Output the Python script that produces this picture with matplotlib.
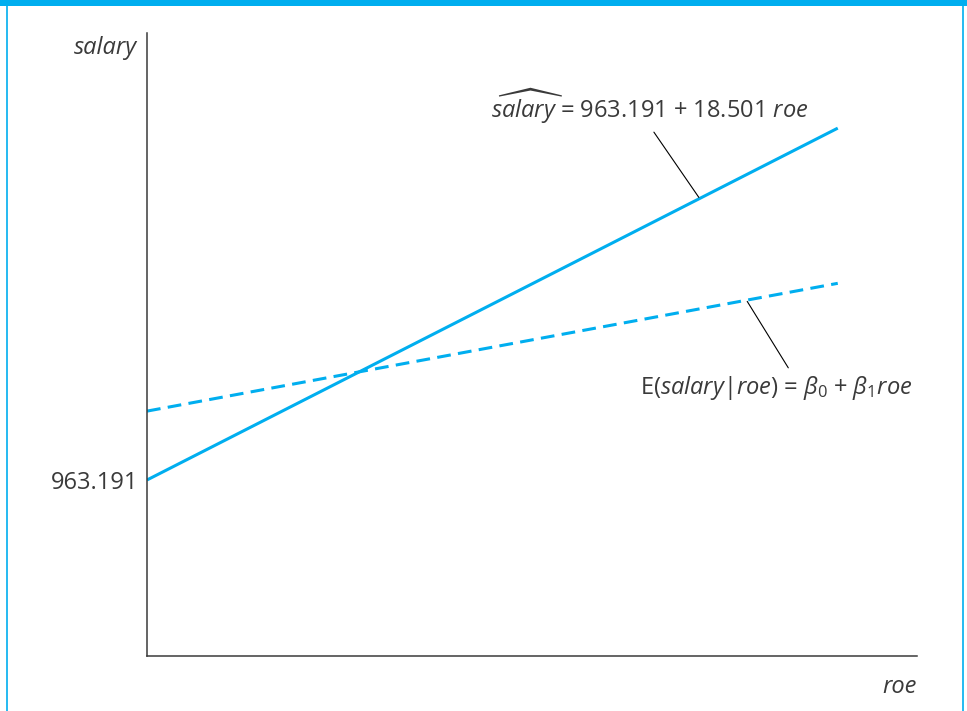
import numpy as np
import matplotlib
matplotlib.use("Agg")
import matplotlib.pyplot as plt
from matplotlib.patches import Rectangle
from matplotlib.lines import Line2D

plt.rcParams['font.family'] = ['Open Sans', 'DejaVu Sans']
plt.rcParams['mathtext.fontset'] = 'custom'
plt.rcParams['mathtext.rm'] = 'Open Sans'
plt.rcParams['mathtext.it'] = 'Open Sans:italic'

AZUL = '#00AEEF'
GRIS = '#3a3a3a'

# Datos
roe = np.array([0.0, 56.0])          # rango de roe dibujado
b0_hat, b1_hat = 963.191, 18.501     # recta estimada (OLS)
b0_pob, b1_pob = 1166.0, 6.72        # recta poblacional (ilustrativa)
xlim = (0.0, 62.4)
ylim = (445.0, 2279.0)
ytick_val = [963.191]
ytick_txt = ['963.191']

salary_hat = b0_hat + b1_hat * roe
salary_pob = b0_pob + b1_pob * roe

fig = plt.figure(figsize=(9.67, 7.11), dpi=100)
ax = fig.add_axes([0.152, 0.0774, 0.796, 0.876])

ax.plot(roe, salary_hat, color=AZUL, lw=2.2, solid_capstyle='butt')
ax.plot(roe, salary_pob, color=AZUL, lw=2.2, dashes=(4.5, 2.4))

ax.set_xlim(*xlim)
ax.set_ylim(*ylim)
ax.set_xticks([])
ax.set_yticks(ytick_val)
ax.set_yticklabels(ytick_txt)
ax.tick_params(axis='y', length=0, pad=6, labelsize=17, labelcolor=GRIS)

for s in ['top', 'right']:
    ax.spines[s].set_visible(False)
for s in ['left', 'bottom']:
    ax.spines[s].set_color(GRIS)
    ax.spines[s].set_linewidth(1.1)

# etiquetas de ejes
ax.text(-0.013, 0.976, 'salary', transform=ax.transAxes, ha='right', va='center',
        fontsize=17, style='italic', color=GRIS)
ax.text(1.0, -0.03, 'roe', transform=ax.transAxes, ha='right', va='top',
        fontsize=17, style='italic', color=GRIS)

# anotaciones
x1 = 44.8
ax.annotate(r'$\widehat{salary}$ = 963.191 + 18.501 $roe$',
            xy=(x1, b0_hat + b1_hat * x1), xycoords='data',
            xytext=(0.653, 0.883), textcoords='axes fraction',
            ha='center', va='center', fontsize=17, color=GRIS,
            arrowprops=dict(arrowstyle='-', color='black', lw=0.8,
                            relpos=(0.5, 0.0), shrinkA=3, shrinkB=1))

x2 = 48.6
ax.annotate(r'E($salary$|$roe$) = $\beta_0$ + $\beta_1 roe$',
            xy=(x2, b0_pob + b1_pob * x2), xycoords='data',
            xytext=(0.817, 0.43), textcoords='axes fraction',
            ha='center', va='center', fontsize=17, color=GRIS,
            arrowprops=dict(arrowstyle='-', color='black', lw=0.8,
                            relpos=(0.56, 1.0), shrinkA=3, shrinkB=1))

# marco
fig.add_artist(Rectangle((0, 1 - 6 / 711), 1, 6 / 711, transform=fig.transFigure,
                         color=AZUL, lw=0))
fig.add_artist(Line2D([7 / 967, 7 / 967], [0, 1], transform=fig.transFigure,
                      color=AZUL, lw=1.2))
fig.add_artist(Line2D([963 / 967, 963 / 967], [0, 1], transform=fig.transFigure,
                      color=AZUL, lw=1.2))

fig.savefig('out.png', dpi=100)
